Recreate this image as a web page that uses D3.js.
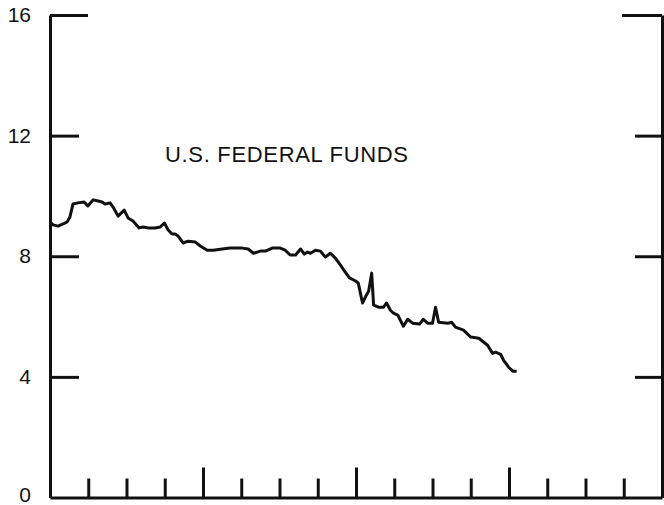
<!DOCTYPE html>
<html>
<head>
<meta charset="utf-8">
<script src="https://cdn.jsdelivr.net/npm/d3@7"></script>
<style>
  html, body { margin: 0; padding: 0; background: #fff; }
  svg { display: block; }
</style>
</head>
<body>
<svg width="664" height="505"></svg>
<script>
const TITLE = 'U.S. FEDERAL FUNDS';
const Y_TICKS = [0, 4, 8, 12, 16];
const X_TICKS = d3.range(1, 16);
const X_MAJOR = [4, 8, 12];

// time position in tick intervals, and the rate (%)
const PERIOD = [0, 0.08, 0.21, 0.34, 0.45, 0.52, 0.60, 0.73, 0.89, 0.99,
  1.13, 1.26, 1.36, 1.44, 1.57, 1.65, 1.78, 1.94, 2.04, 2.17,
  2.33, 2.44, 2.57, 2.75, 2.88, 2.99, 3.09, 3.19, 3.27, 3.35,
  3.48, 3.61, 3.80, 3.93, 4.11, 4.27, 4.50, 4.71, 5.03, 5.18,
  5.32, 5.50, 5.63, 5.81, 6.02, 6.15, 6.28, 6.42, 6.55, 6.65,
  6.73, 6.81, 6.94, 7.07, 7.20, 7.33, 7.46, 7.59, 7.70, 7.83,
  7.99, 8.06, 8.17, 8.27, 8.33, 8.41, 8.46, 8.59, 8.72, 8.80,
  8.90, 8.98, 9.09, 9.24, 9.35, 9.48, 9.66, 9.76, 9.87, 10.00,
  10.08, 10.16, 10.40, 10.50, 10.60, 10.81, 11.00, 11.21, 11.31, 11.44,
  11.57, 11.65, 11.78, 11.86, 11.99, 12.10, 12.20];
const RATE = [9.14, 9.04, 9.00, 9.07, 9.14, 9.30, 9.73, 9.77, 9.80, 9.67,
  9.87, 9.83, 9.80, 9.73, 9.77, 9.63, 9.33, 9.53, 9.27, 9.17,
  8.94, 8.97, 8.94, 8.94, 8.97, 9.10, 8.87, 8.74, 8.74, 8.67,
  8.44, 8.50, 8.47, 8.34, 8.20, 8.20, 8.24, 8.27, 8.27, 8.24,
  8.10, 8.17, 8.17, 8.27, 8.27, 8.20, 8.04, 8.04, 8.24, 8.07,
  8.14, 8.10, 8.20, 8.17, 7.97, 8.10, 7.94, 7.71, 7.51, 7.28,
  7.18, 7.11, 6.45, 6.71, 6.84, 7.44, 6.38, 6.31, 6.31, 6.45,
  6.21, 6.11, 6.05, 5.68, 5.91, 5.78, 5.75, 5.91, 5.78, 5.78,
  6.31, 5.81, 5.78, 5.81, 5.65, 5.55, 5.32, 5.28, 5.18, 5.05,
  4.78, 4.82, 4.75, 4.55, 4.32, 4.19, 4.19];

const svg = d3.select('svg');
const margin = { left: 50, right: 662, top: 15, bottom: 497.5 };

const x = d3.scaleLinear().domain([0, 16]).range([margin.left, margin.right]);
const y = d3.scaleLinear().domain([0, 16]).range([margin.bottom, margin.top]);

const ink = '#111';
const font = 'Liberation Sans, Arial, Helvetica, sans-serif';

// left axis with labels, ticks pointing inward
const gl = svg.append('g')
    .attr('transform', `translate(${margin.left},0)`)
    .call(d3.axisLeft(y).tickValues(Y_TICKS).tickSizeInner(-29).tickSizeOuter(0).tickPadding(19));

// right axis, no labels
const gr = svg.append('g')
    .attr('transform', `translate(${margin.right},0)`)
    .call(d3.axisRight(y).tickValues(Y_TICKS.slice(1)).tickSizeInner(-27).tickSizeOuter(0).tickFormat(''));

// bottom axis, short and long ticks inward
const gb = svg.append('g')
    .attr('transform', `translate(0,${margin.bottom})`)
    .call(d3.axisBottom(x).tickValues(X_TICKS).tickSizeInner(-19).tickSizeOuter(0).tickFormat(''));

gb.selectAll('.tick line')
    .attr('y2', d => X_MAJOR.includes(d) ? -30 : -19);

// longer top ticks close the frame corners
gl.selectAll('.tick line').attr('x2', d => d === 16 ? 38 : (d === 0 ? 0 : 29));
gr.selectAll('.tick line').attr('x2', d => d === 16 ? -40 : -27);

[gl, gr, gb].forEach(g => {
  g.selectAll('.domain').attr('stroke', ink).attr('stroke-width', 3);
  g.selectAll('.tick line').attr('stroke', ink).attr('stroke-width', 3);
});

gl.selectAll('.tick text')
    .attr('fill', ink)
    .attr('font-family', font)
    .attr('font-size', 21)
    // keep the bottom "0" inside the frame
    .attr('dy', d => d === 0 ? '0.2em' : '0.32em');

// rate line
svg.append('path')
    .datum(d3.zip(PERIOD, RATE))
    .attr('fill', 'none')
    .attr('stroke', ink)
    .attr('stroke-width', 3)
    .attr('stroke-linejoin', 'round')
    .attr('d', d3.line().x(d => x(d[0])).y(d => y(d[1])));

svg.append('text')
    .attr('x', 165)
    .attr('y', 162)
    .attr('fill', ink)
    .attr('font-family', font)
    .attr('font-size', 22)
    .attr('textLength', 243)
    .attr('lengthAdjust', 'spacing')
    .text(TITLE);
</script>
</body>
</html>
